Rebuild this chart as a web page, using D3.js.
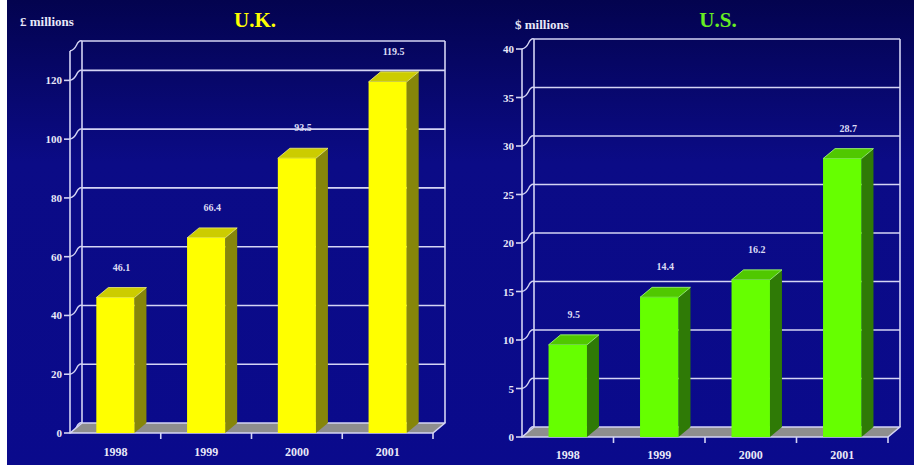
<!DOCTYPE html>
<html><head><meta charset="utf-8">
<script src="https://cdn.jsdelivr.net/npm/d3@7"></script>
<style>html,body{margin:0;padding:0;background:#fff;}svg{display:block;}</style>
</head><body>
<svg id="c" width="914" height="466"></svg>
<script>
const years = ["1998","1999","2000","2001"];
const ukValues = [46.1, 66.4, 93.5, 119.5];
const usValues = [9.5, 14.4, 16.2, 28.7];
const ukTicks = [0,20,40,60,80,100,120];
const usTicks = [0,5,10,15,20,25,30,35,40];
const ukTitle = "U.K.", usTitle = "U.S.";
const ukUnit = "£ millions", usUnit = "$ millions";

const svg = d3.select("#c");
const defs = svg.append("defs");
const bg = defs.append("linearGradient").attr("id","bg").attr("x1",0).attr("y1",0).attr("x2",0).attr("y2",1);
bg.append("stop").attr("offset","0").attr("stop-color","#03034f");
bg.append("stop").attr("offset","0.35").attr("stop-color","#0b0b86");
bg.append("stop").attr("offset","1").attr("stop-color","#0a0a8c");
svg.append("rect").attr("width",914).attr("height",466).attr("fill","url(#bg)");
svg.append("rect").attr("x",0).attr("y",0).attr("width",7).attr("height",466).attr("fill","#fff");
svg.append("rect").attr("x",0).attr("y",465).attr("width",914).attr("height",1).attr("fill","#fff");

const lineCol = "#d4d4f4";
const serif = "'Liberation Serif','Times New Roman',serif";

function panel(cfg){
  const g = svg.append("g");
  const {x0, x1, y0, yTop, max, dx, dy} = cfg;
  const x = d3.scaleBand().domain(years).range([x0, x1]).paddingInner(0.58).paddingOuter(0.29);
  const xb = d3.scaleBand().domain(years).range([x0, x1]);
  const y = d3.scaleLinear().domain([0, max]).range([y0, yTop]);

  // back wall gridlines
  g.selectAll(".grid").data(cfg.ticks.concat([max]).filter((v,i,a)=>a.indexOf(v)===i && v>0)).join("line")
    .attr("x1", x0+dx).attr("x2", x1+dx).attr("y1", d=>y(d)+dy).attr("y2", d=>y(d)+dy)
    .attr("stroke", lineCol).attr("stroke-width",1.6);
  // back wall verticals
  g.append("line").attr("x1",x0+dx).attr("x2",x0+dx).attr("y1",y(max)+dy).attr("y2",y(0)+dy).attr("stroke",lineCol).attr("stroke-width",1.6);
  g.append("line").attr("x1",x1+dx).attr("x2",x1+dx).attr("y1",y(max)+dy).attr("y2",y(0)+dy).attr("stroke",lineCol).attr("stroke-width",1.6);
  // side-wall connectors
  g.selectAll(".conn").data(cfg.ticks.concat([max]).filter((v,i,a)=>a.indexOf(v)===i)).join("path")
    .attr("d", d=>`M${x0},${y(d)} Q${x0+dx*0.35},${y(d)+dy*0.1} ${x0+dx*0.55},${y(d)+dy*0.6} T${x0+dx},${y(d)+dy}`)
    .attr("fill","none").attr("stroke",lineCol).attr("stroke-width",1.4);
  // floor
  g.append("path").attr("d",`M${x0},${y(0)} L${x1},${y(0)} L${x1+dx},${y(0)+dy} L${x0+dx},${y(0)+dy}Z`)
    .attr("fill","#8e8e8e").attr("stroke",lineCol).attr("stroke-width",1.6).attr("stroke-linejoin","round");
  // front axis
  g.append("line").attr("x1",x0).attr("x2",x0).attr("y1",y(max)).attr("y2",y(0)).attr("stroke",lineCol).attr("stroke-width",1.6);
  g.selectAll(".tk").data(cfg.ticks).join("line")
    .attr("x1",x0-6).attr("x2",x0).attr("y1",d=>y(d)).attr("y2",d=>y(d)).attr("stroke",lineCol).attr("stroke-width",1.6);
  g.selectAll(".tl").data(cfg.ticks).join("text")
    .attr("x",x0-8).attr("y",d=>y(d)+4).attr("text-anchor","end")
    .attr("font-family",serif).attr("font-weight","bold").attr("font-size",11).attr("fill","#e8e8f8").text(d=>d);
  // floor front ticks
  g.selectAll(".ft").data(years).join("line")
    .attr("x1",d=>xb(d)+xb.bandwidth()).attr("x2",d=>xb(d)+xb.bandwidth())
    .attr("y1",y(0)).attr("y2",y(0)+6).attr("stroke",lineCol).attr("stroke-width",1.6);

  // bars
  const vals = cfg.values;
  const bars = g.selectAll(".bar").data(years.map((k,i)=>({k, v: vals[i]}))).join("g");
  const w = x.bandwidth();
  bars.append("path").attr("d", d=>{const l=x(d.k)+w, t=y(d.v), b=y(0);
      return `M${l},${b} L${l+dx},${b+dy} L${l+dx},${t+dy} L${l},${t}Z`;})
    .attr("fill", cfg.side);
  bars.append("path").attr("d", d=>{const l=x(d.k), t=y(d.v);
      return `M${l},${t} L${l+dx},${t+dy} L${l+w+dx},${t+dy} L${l+w},${t}Z`;})
    .attr("fill", cfg.top).attr("stroke", cfg.topEdge).attr("stroke-width",0.8);
  bars.append("rect").attr("x", d=>x(d.k)).attr("y", d=>y(d.v)).attr("width", w).attr("height", d=>y(0)-y(d.v))
    .attr("fill", cfg.front);
  bars.append("text").attr("x", d=>x(d.k)+w/2+dx/2).attr("y", d=>y(d.v)+dy-17)
    .attr("text-anchor","middle").attr("font-family",serif).attr("font-weight","bold").attr("font-size",10)
    .attr("fill","#dcdcf4").text(d=>d.v);

  // year labels
  g.selectAll(".yl").data(years).join("text")
    .attr("x", d=>xb(d)+xb.bandwidth()/2).attr("y", y(0)+cfg.yearOff)
    .attr("text-anchor","middle").attr("font-family",serif).attr("font-weight","bold").attr("font-size",12)
    .attr("fill","#e8e8f8").text(d=>d);

  // title and unit
  g.append("text").attr("x",cfg.titleX).attr("y",27).attr("text-anchor","middle").attr("font-family",serif)
    .attr("font-weight","bold").attr("font-size",21).attr("fill",cfg.titleCol).text(cfg.title);
  g.append("text").attr("x",cfg.unitX).attr("y",cfg.unitY).attr("font-family",serif)
    .attr("font-weight","bold").attr("font-size",13).attr("fill","#e8e8f8").text(cfg.unit);
}

panel({x0:70, x1:433, y0:433, yTop:51, max:130, dx:12, dy:-10, ticks:ukTicks, values:ukValues,
  front:"#ffff00", side:"#86860a", top:"#cccc00", topEdge:"#f0f080",
  title:ukTitle, titleX:255, titleCol:"#ffff00", unit:ukUnit, unitX:20, unitY:26, yearOff:23});
panel({x0:522, x1:888, y0:437, yTop:49, max:40, dx:12, dy:-10, ticks:usTicks, values:usValues,
  front:"#66ff00", side:"#2f7a06", top:"#50c800", topEdge:"#a8ff80",
  title:usTitle, titleX:718, titleCol:"#66ee22", unit:usUnit, unitX:515, unitY:29, yearOff:22});
</script>
</body></html>
